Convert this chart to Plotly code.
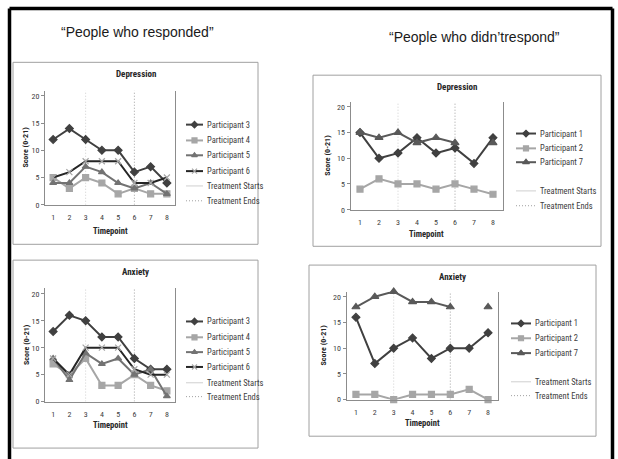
import plotly.graph_objects as go

W, H = 618, 459

# ---------------- data ----------------
timepoints = [1, 2, 3, 4, 5, 6, 7, 8]
treatment_start = 3
treatment_end = 6
score_ticks = [0, 5, 10, 15, 20]
score_max = 21

# People who responded - Depression
resp_dep_p3 = [12, 14, 12, 10, 10, 6, 7, 4]
resp_dep_p4 = [5, 3, 5, 4, 2, 3, 2, 2]
resp_dep_p5 = [4, 4, 7, 6, 4, 3, 4, 2]
resp_dep_p6 = [5, 6, 8, 8, 8, 4, 4, 5]

# People who responded - Anxiety
resp_anx_p3 = [13, 16, 15, 12, 12, 8, 6, 6]
resp_anx_p4 = [7, 5, 8, 3, 3, 5, 3, 2]
resp_anx_p5 = [8, 4, 9, 7, 8, 5, 6, 1]
resp_anx_p6 = [8, 5, 10, 10, 10, 6, 5, 5]

# People who didn't respond - Depression
non_dep_p1 = [15, 10, 11, 14, 11, 12, 9, 14]
non_dep_p2 = [4, 6, 5, 5, 4, 5, 4, 3]
non_dep_p7 = [15, 14, 15, 13, 14, 13, None, 13]

# People who didn't respond - Anxiety
non_anx_p1 = [16, 7, 10, 12, 8, 10, 10, 13]
non_anx_p2 = [1, 1, 0, 1, 1, 1, 2, 0]
non_anx_p7 = [18, 20, 21, 19, 19, 18, None, 18]

# ---------------- styles ----------------
STY = {
    "Participant 1": dict(color="#404040", symbol="diamond", size=6),
    "Participant 2": dict(color="#a6a6a6", symbol="square", size=6),
    "Participant 3": dict(color="#404040", symbol="diamond", size=6),
    "Participant 4": dict(color="#a6a6a6", symbol="square", size=6),
    "Participant 5": dict(color="#737373", symbol="triangle-up", size=6),
    "Participant 6": dict(color="#262626", symbol="x-thin-open", size=6, mcolor="#a6a6a6"),
    "Participant 7": dict(color="#595959", symbol="triangle-up", size=7),
}
START_COLOR = "#cfcfcf"
END_COLOR = "#a0a0a0"
AXIS_COLOR = "#8c8c8c"
TXT = "#404040"
FONT = "Liberation Sans Narrow, Roboto Condensed, Liberation Sans, Arial"

panels = [
    dict(title="Depression",
         series=[("Participant 3", resp_dep_p3), ("Participant 4", resp_dep_p4),
                 ("Participant 5", resp_dep_p5), ("Participant 6", resp_dep_p6)],
         box=(13, 63, 258, 247), plot=(45, 91.5, 175, 207), title_y=75,
         xt_y=234, yt_x=26, leg_x=(186, 203), leg_ys=[126, 142, 157, 173, 188, 203]),
    dict(title="Depression",
         series=[("Participant 1", non_dep_p1), ("Participant 2", non_dep_p2),
                 ("Participant 7", non_dep_p7)],
         box=(313, 76, 601, 249), plot=(350.5, 102.8, 502.5, 212), title_y=88,
         xt_y=237, yt_x=328, leg_x=(516, 536), leg_ys=[135, 150, 164, 193, 208]),
    dict(title="Anxiety",
         series=[("Participant 3", resp_anx_p3), ("Participant 4", resp_anx_p4),
                 ("Participant 5", resp_anx_p5), ("Participant 6", resp_anx_p6)],
         box=(13, 263, 258, 453), plot=(45, 291.6, 175, 406), title_y=275,
         xt_y=430, yt_x=26, leg_x=(186, 203), leg_ys=[325, 341, 356, 371, 387, 401]),
    dict(title="Anxiety",
         series=[("Participant 1", non_anx_p1), ("Participant 2", non_anx_p2),
                 ("Participant 7", non_anx_p7)],
         box=(309, 268, 596, 441), plot=(346.5, 294.8, 497.5, 404), title_y=280,
         xt_y=428, yt_x=324, leg_x=(511, 531), leg_ys=[327, 342, 357, 386, 400]),
]

fig = go.Figure()
shapes = []
annotations = []

def px(x):
    return x / W

def py(y):
    return 1 - y / H

def ann(text, x, y, size, color, family=FONT, xanchor="center", angle=0):
    return dict(text=text, x=px(x), y=py(y), xref="paper", yref="paper", showarrow=False,
                xanchor=xanchor, yanchor="middle", textangle=angle,
                font=dict(size=size, color=color, family=family))

OV_X, OV_Y = "x5", "y5"
DOT = "1px,2px"

for i, p in enumerate(panels, start=1):
    xa, ya = ("x" if i == 1 else f"x{i}"), ("y" if i == 1 else f"y{i}")
    x0, y0, x1, y1 = p["plot"]
    fig.layout[f"xaxis{'' if i == 1 else i}"] = dict(
        domain=[px(x0), px(x1)], anchor=ya, range=[0.5, 8.5],
        tickvals=timepoints, ticktext=[str(t) for t in timepoints],
        showline=True, linecolor=AXIS_COLOR, linewidth=1,
        ticks="outside", ticklen=5, tickcolor="rgba(0,0,0,0)",
        showgrid=False, zeroline=False, tickfont=dict(size=8, color=TXT, family=FONT),
        fixedrange=True)
    fig.layout[f"yaxis{'' if i == 1 else i}"] = dict(
        domain=[py(y1), py(y0)], anchor=xa, range=[0, score_max],
        tickvals=score_ticks, showline=True, mirror=True, linecolor=AXIS_COLOR,
        linewidth=1, ticks="outside", ticklen=3, tickcolor=AXIS_COLOR,
        showgrid=False, zeroline=False, tickfont=dict(size=8, color=TXT, family=FONT),
        fixedrange=True)

    # treatment markers
    fig.add_trace(go.Scatter(x=[treatment_start, treatment_start], y=[0, score_max],
                             mode="lines", line=dict(color=START_COLOR, width=1, dash=DOT),
                             xaxis=xa, yaxis=ya, showlegend=False, hoverinfo="skip"))
    fig.add_trace(go.Scatter(x=[treatment_end, treatment_end], y=[0, score_max],
                             mode="lines", line=dict(color=END_COLOR, width=1, dash=DOT),
                             xaxis=xa, yaxis=ya, showlegend=False, hoverinfo="skip"))
    # series
    for name, vals in p["series"]:
        s = STY[name]
        fig.add_trace(go.Scatter(
            x=timepoints, y=vals, mode="lines+markers", name=name,
            line=dict(color=s["color"], width=2),
            marker=dict(symbol=s["symbol"], size=s["size"], color=s.get("mcolor", s["color"]),
                        line=dict(color=s.get("mcolor", s["color"]), width=1.2)),
            connectgaps=False, xaxis=xa, yaxis=ya, showlegend=False, cliponaxis=False))

    # box
    bx0, by0, bx1, by1 = p["box"]
    shapes.append(dict(type="rect", xref="paper", yref="paper",
                       x0=px(bx0), x1=px(bx1), y0=py(by1), y1=py(by0),
                       line=dict(color="#a0a0a0", width=1)))
    cx = (bx0 + bx1) / 2
    annotations.append(ann("<b>" + p["title"] + "</b>", cx, p["title_y"], 9, "#262626"))
    annotations.append(ann("<b>Timepoint</b>", (x0 + x1) / 2, p["xt_y"], 8.5, "#262626"))
    annotations.append(ann("<b>Score (0-21)</b>", p["yt_x"], (y0 + y1) / 2, 8, "#262626", angle=-90))

    # manual legend
    lx0, lx1 = p["leg_x"]
    entries = [(n, "series") for n, _ in p["series"]] + [("Treatment Starts", "start"), ("Treatment Ends", "end")]
    for (name, kind), ly in zip(entries, p["leg_ys"]):
        if kind == "series":
            s = STY[name]
            fig.add_trace(go.Scatter(x=[lx0, lx1], y=[ly, ly], mode="lines",
                                     line=dict(color=s["color"], width=2),
                                     xaxis=OV_X, yaxis=OV_Y, showlegend=False, hoverinfo="skip"))
            fig.add_trace(go.Scatter(x=[(lx0 + lx1) / 2], y=[ly], mode="markers",
                                     marker=dict(symbol=s["symbol"], size=s["size"] - 1,
                                                 color=s.get("mcolor", s["color"]),
                                                 line=dict(color=s.get("mcolor", s["color"]), width=1.2)),
                                     xaxis=OV_X, yaxis=OV_Y, showlegend=False, hoverinfo="skip"))
        else:
            fig.add_trace(go.Scatter(x=[lx0, lx1], y=[ly, ly], mode="lines",
                                     line=dict(color=START_COLOR if kind == "start" else END_COLOR,
                                               width=1, dash="solid" if kind == "start" else DOT),
                                     xaxis=OV_X, yaxis=OV_Y, showlegend=False, hoverinfo="skip"))
        annotations.append(ann(name, lx1 + 2, ly, 8.5, TXT, xanchor="left"))

# overlay axis in pixel space for legend samples
fig.layout["xaxis5"] = dict(domain=[0, 1], range=[0, W], visible=False, anchor="y5", fixedrange=True)
fig.layout["yaxis5"] = dict(domain=[0, 1], range=[H, 0], visible=False, anchor="x5", fixedrange=True)

# page titles
annotations.append(ann("“People who responded”", 137, 32, 14, "#1a1a1a", family="Liberation Sans, Arial"))
annotations.append(ann("“People who didn’trespond”", 474, 37, 14, "#1a1a1a", family="Liberation Sans, Arial"))

# outer black frame (open at the bottom)
for (a, b, c, d) in [(9.5, 8.5, 9.5, 470), (9.5, 8.5, 612.5, 8.5), (612.5, 8.5, 612.5, 470)]:
    shapes.append(dict(type="line", xref="paper", yref="paper", x0=px(a), y0=py(b), x1=px(c), y1=py(d),
                       line=dict(color="#000000", width=3.5)))

fig.update_layout(width=W, height=H, margin=dict(l=0, r=0, t=0, b=0),
                  paper_bgcolor="white", plot_bgcolor="rgba(0,0,0,0)",
                  shapes=shapes, annotations=annotations, showlegend=False,
                  font=dict(family=FONT))

fig.write_html("out.html", config={"displayModeBar": False},
               post_script="document.body.style.margin='0';")
